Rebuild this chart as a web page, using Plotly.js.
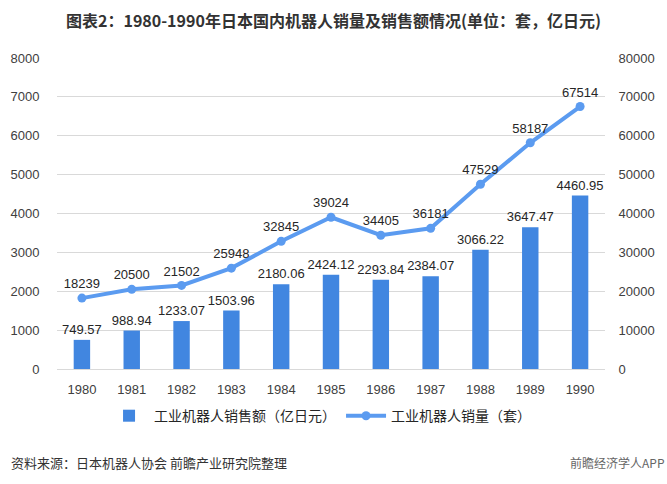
<!DOCTYPE html>
<html>
<head>
<meta charset="utf-8">
<script src="https://cdn.plot.ly/plotly-3.0.1.min.js"></script>
<style>html,body{margin:0;padding:0;background:#fff;}#chart{width:667px;height:484px;}</style>
</head>
<body>
<div id="chart"></div>
<script>
var years = ['1980','1981','1982','1983','1984','1985','1986','1987','1988','1989','1990'];
var salesAmount = [749.57, 988.94, 1233.07, 1503.96, 2180.06, 2424.12, 2293.84, 2384.07, 3066.22, 3647.47, 4460.95];
var salesVolume = [18239, 20500, 21502, 25948, 32845, 39024, 34405, 36181, 47529, 58187, 67514];
var seriesNames = ['工业机器人销售额（亿日元）', '工业机器人销量（套）'];

var labelFont = {family: 'Liberation Sans, Arial, sans-serif', size: 13, color: '#262626'};
var tickFont = {family: 'Liberation Sans, Arial, sans-serif', size: 13, color: '#404040'};
var cjk = 'Noto Sans CJK SC, sans-serif';

var traces = [
  {
    type: 'bar', x: years, y: salesAmount, name: seriesNames[0],
    marker: {color: '#4186e0'}, width: 0.33,
    text: salesAmount.map(function(v){return v.toFixed(2);}),
    textposition: 'outside', textfont: labelFont, cliponaxis: false, constraintext: 'none',
    hoverinfo: 'x+y'
  },
  {
    type: 'scatter', mode: 'lines+markers+text', x: years, y: salesVolume, name: seriesNames[1],
    yaxis: 'y2', line: {color: '#5b9bf0', width: 4}, marker: {color: '#5b9bf0', size: 9},
    text: salesVolume.map(String), textposition: 'top center', textfont: labelFont,
    cliponaxis: false
  }
];

var layout = {
  width: 667, height: 484,
  margin: {l: 57, r: 62, t: 58, b: 115},
  paper_bgcolor: '#fff', plot_bgcolor: '#fff',
  showlegend: true,
  title: {text: '<b>图表2：1980-1990年日本国内机器人销量及销售额情况(单位：套，亿日元)</b>',
          font: {family: cjk, size: 16, color: '#333333'}, x: 0.5, xanchor: 'center', y: 0.955, yanchor: 'middle'},
  xaxis: {type: 'category', range: [-0.5, 10.5], tickfont: tickFont, showgrid: false, showline: true, linecolor: '#d9d9d9',
          ticks: 'outside', ticklen: 8, tickcolor: 'rgba(0,0,0,0)', fixedrange: true, automargin: false},
  yaxis: {range: [0, 8000], dtick: 1000, tickfont: tickFont, gridcolor: '#d9d9d9', zeroline: false,
          showline: false, ticks: 'outside', ticklen: 14, tickcolor: 'rgba(0,0,0,0)', automargin: false},
  yaxis2: {range: [0, 80000], dtick: 10000, tickformat: 'd', overlaying: 'y', side: 'right', tickfont: tickFont,
           showgrid: false, zeroline: false, showline: false, ticks: 'outside', ticklen: 10,
           tickcolor: 'rgba(0,0,0,0)', automargin: false},
  bargap: 0.67,
  legend: {orientation: 'h', x: 0.48, xanchor: 'center', y: -0.1, yanchor: 'top',
           font: {family: cjk, size: 14, color: '#262626'}, itemwidth: 40, tracegroupgap: 0},
  annotations: [
    {text: '资料来源：日本机器人协会 前瞻产业研究院整理', xref: 'paper', yref: 'paper', x: -0.087, y: -0.3,
     xanchor: 'left', yanchor: 'middle', showarrow: false, font: {family: cjk, size: 13, color: '#333333'}},
    {text: '前瞻经济学人APP', xref: 'paper', yref: 'paper', x: 1.113, y: -0.3,
     xanchor: 'right', yanchor: 'middle', showarrow: false, font: {family: cjk, size: 12, color: '#666666'}}
  ]
};

Plotly.newPlot('chart', traces, layout, {displayModeBar: false, staticPlot: true});
</script>
</body>
</html>
